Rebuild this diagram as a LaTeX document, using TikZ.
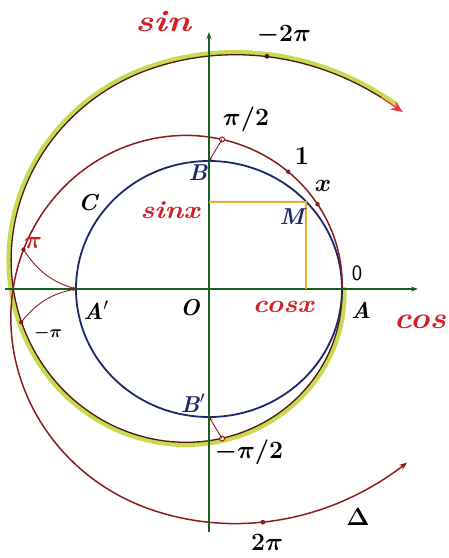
\documentclass[tikz,border=0pt]{standalone}
\usepackage{amsmath}
\usepackage{graphicx}
\usetikzlibrary{arrows.meta}
\definecolor{spired}{RGB}{140,28,28}
\definecolor{spirdark}{RGB}{80,22,18}
\definecolor{navy}{RGB}{28,40,105}
\definecolor{axgreen}{RGB}{25,95,35}
\definecolor{orng}{RGB}{240,170,50}
\definecolor{labred}{RGB}{210,32,40}
\definecolor{ygreen}{RGB}{200,218,80}
\definecolor{tipred}{RGB}{225,60,60}
\tikzset{
  lab/.style={inner sep=0pt, font=\fontsize{23}{23}\selectfont\bfseries},
  bigred/.style={inner sep=0pt, text=labred, font=\fontsize{30}{30}\selectfont\bfseries\itshape},
  midred/.style={inner sep=0pt, text=labred, font=\fontsize{25}{25}\selectfont\bfseries\itshape},
  ptlab/.style={inner sep=0pt, font=\fontsize{23}{23}\selectfont\bfseries\itshape},
  spiral/.style={spired, line width=1.5pt},
  tick/.style={spired, fill=spired},
  mapto/.style={spired, line width=0.9pt, -{Stealth[length=4pt,width=3.5pt]}},
  declare function={spr(\t)=133+17.5*rad(\t)-12.5*sin(\t)+4*(1-cos(\t))+24*(max(\t-255,0)/64)^2;},
}
\begin{document}
\begin{tikzpicture}[x=1pt,y=1pt]
\useasboundingbox (-209,-269) rectangle (240,289);

% negative spiral: yellow-green band
\draw[ygreen, line width=4.5pt, line cap=round, shorten >=10pt]
  plot[domain=0:317.6, samples=160, variable=\t] ({-\t}:{spr(\t)+2.2});

% blue unit circle
\draw[navy, line width=1.8pt] (0,0) ellipse [x radius=133, y radius=128];

% negative spiral dark line
\draw[spirdark, line width=1.3pt]
  plot[domain=0:312, samples=160, variable=\t] ({-\t}:{spr(\t)-0.3});
\draw[tipred, line width=1.3pt, -{Stealth[length=12pt,width=10pt]}]
  ({-312}:{spr(312)-0.3}) -- ({-317.6}:{spr(317.6)});

% positive spiral
\draw[spiral, -{Stealth[length=8pt,width=6pt]}]
  plot[domain=0:318.8, samples=160, variable=\t] ({\t}:{spr(\t)});

% axes
\draw[axgreen, line width=1.4pt, -{Stealth[length=7pt,width=5pt]}] (-204,0) -- (209,0);
\draw[axgreen, line width=1.4pt, -{Stealth[length=7pt,width=5pt]}] (0,-243) -- (0,257);

% points
\coordinate (O) at (0,0);
\coordinate (A) at (133,0);
\coordinate (Ap) at (-133,0);
\coordinate (B) at (0,128);
\coordinate (Bp) at (0,-128);
\coordinate (M) at (43:133 and 128);
\coordinate (Mx) at (M |- O);
\coordinate (My) at (M -| O);

% orange projections
\draw[orng, line width=1.8pt] (My) -- (M) -- (Mx);

% markers on spirals
\coordinate (pone) at ({56}:{spr(56)});
\coordinate (px) at ({38}:{spr(38)});
\coordinate (phalf) at ({85}:{spr(85)});
\coordinate (ppi) at ({168}:{spr(168)});
\coordinate (mpi) at ({-170}:{spr(170)});
\coordinate (mhalf) at ({-85}:{spr(85)});
\coordinate (ptwo) at ({283}:{spr(283)});
\coordinate (mtwo) at ({-284}:{spr(284)});
\fill[tick] (pone) circle (2.2);
\fill[tick] (px) circle (2.2);
\draw[spired, line width=1pt, fill=white] (phalf) circle (2.5);
\fill[tick] (ppi) circle (2.2);
\fill[tick] (mpi) circle (2.2);
\draw[spired, line width=1pt, fill=white] (mhalf) circle (2.5);
\fill[tick] (ptwo) circle (2.4);
\fill[spirdark] (mtwo) circle (2.4);

% mapping arrows
\draw[mapto] (phalf) -- (B);
\draw[mapto] (mhalf) -- (Bp);
\draw[mapto] (ppi) to[bend right=20] (Ap);
\draw[mapto] (mpi) to[bend left=20] (Ap);

% labels
\node[bigred] (sinlab) at (-46,267) {\scalebox{1.25}[1]{sin}};
\node[bigred] (coslab) at (211,-33) {\scalebox{1.12}[1]{cos}};
\node[midred] (sinx) at (-39,79) {\scalebox{1.15}[1]{sinx}};
\node[midred] (cosx) at (74,-18) {\scalebox{1.15}[1]{cosx}};
\node[lab] (lm2pi) at (75,254) {$\boldsymbol{-2\pi}$};
\node[lab] (lhalf) at (37,170) {$\boldsymbol{\pi/2}$};
\node[lab, font=\fontsize{26}{26}\selectfont\bfseries] (lone) at (93,133) {1};
\node[ptlab] (lx) at (114,103) {$\boldsymbol{x}$};
\node[ptlab, text=navy] (lB) at (-11,116) {B};
\node[ptlab] (lC) at (-121,86) {C};
\node[ptlab, text=navy] (lM) at (83,72) {M};
\node[lab, font=\fontsize{22}{22}\selectfont\sffamily] (lzero) at (148,16) {0};
\node[lab, text=labred] (lpi) at (-176,46) {$\boldsymbol{\pi}$};
\node[ptlab] (lAp) at (-113,-21) {A$'$};
\node[ptlab] (lO) at (-19,-19) {O};
\node[ptlab] (lA) at (152,-21) {A};
\node[lab, font=\fontsize{16}{16}\selectfont\bfseries] (lmpi) at (-161,-44) {$\boldsymbol{-\pi}$};
\node[ptlab, text=navy] (lBp) at (-16,-114) {B$'$};
\node[lab] (lmhalf) at (40,-163) {$\boldsymbol{-\pi/2}$};
\node[lab] (ldelta) at (149,-228) {$\boldsymbol{\Delta}$};
\node[lab] (l2pi) at (58,-253) {$\boldsymbol{2\pi}$};
\end{tikzpicture}
\end{document}
